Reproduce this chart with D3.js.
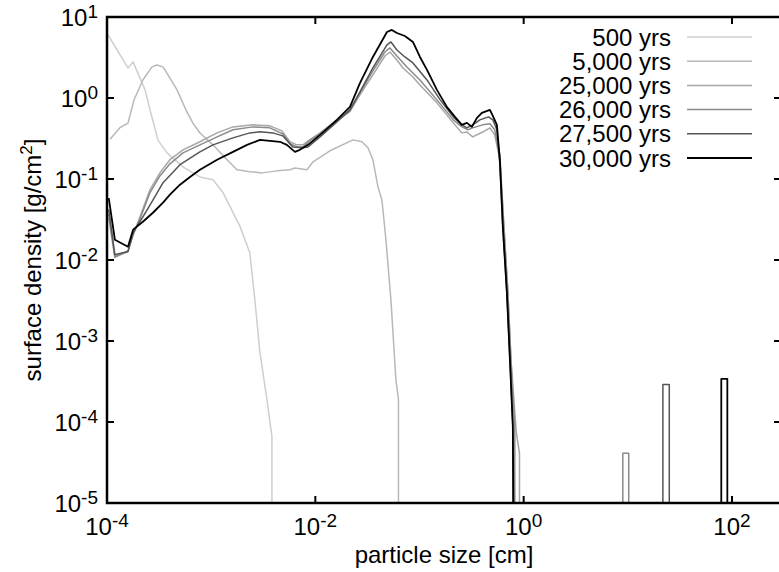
<!DOCTYPE html>
<html>
<head>
<meta charset="utf-8">
<script src="https://cdn.jsdelivr.net/npm/d3@7"></script>
<style>
  body { margin: 0; background: #fff; }
  svg { display: block; font-family: 'Liberation Sans', Arial, Helvetica, sans-serif; }
</style>
</head>
<body>
<div id="chart"></div>
<script>
// [particle size (cm), surface density (g/cm^2)], 0 = below plot floor
const yrs500 = [
  [1.0e-4, 6.3], [1.59e-4, 2.35], [1.78e-4, 2.79], [2.07e-4, 1.77], [2.32e-4, 1.26],
  [2.59e-4, 0.71], [3.09e-4, 0.30], [3.77e-4, 0.21], [5.36e-4, 0.141], [7.8e-4, 0.106],
  [1.04e-3, 0.098], [1.30e-3, 0.068], [1.89e-3, 0.026], [2.35e-3, 0.0123], [2.63e-3, 3.2e-3],
  [2.94e-3, 7.2e-4], [3.43e-3, 1.9e-4], [3.83e-3, 6.6e-5], [3.83e-3, 0]
];
const yrs5000 = [
  [1.07e-4, 0.31], [1.33e-4, 0.43], [1.59e-4, 0.49], [1.82e-4, 0.95], [2.21e-4, 1.67],
  [2.70e-4, 2.42], [3.02e-4, 2.56], [3.45e-4, 2.42], [3.85e-4, 1.93], [4.70e-4, 1.26],
  [5.73e-4, 0.71], [6.68e-4, 0.49], [7.8e-4, 0.37], [1.04e-3, 0.264], [1.42e-3, 0.173],
  [1.77e-3, 0.130], [2.35e-3, 0.123], [3.08e-3, 0.119], [4.28e-3, 0.126], [5.70e-3, 0.130],
  [6.37e-3, 0.137], [8.3e-3, 0.130], [9.5e-3, 0.163], [1.38e-2, 0.223], [2.30e-2, 0.304],
  [2.80e-2, 0.288], [3.20e-2, 0.243], [3.57e-2, 0.173], [3.99e-2, 0.080], [4.36e-2, 0.055],
  [4.76e-2, 0.0178], [5.32e-2, 3.2e-3], [5.94e-2, 3.3e-4], [6.28e-2, 1.9e-4], [6.28e-2, 0]
];
const yrs25000 = [
  [1.04e-4, 0.033], [1.19e-4, 0.0107], [1.59e-4, 0.0130], [1.78e-4, 0.020], [2.07e-4, 0.034],
  [2.59e-4, 0.074], [3.22e-4, 0.119], [4.02e-4, 0.173], [5.36e-4, 0.229], [7.8e-4, 0.288],
  [1.14e-3, 0.371], [1.62e-3, 0.440], [2.52e-3, 0.466], [3.66e-3, 0.453], [4.78e-3, 0.393],
  [5.70e-3, 0.288], [6.64e-3, 0.264], [7.6e-3, 0.264], [8.8e-3, 0.304], [1.11e-2, 0.371],
  [1.61e-2, 0.537], [2.15e-2, 0.68], [2.68e-2, 1.09], [3.57e-2, 1.93], [4.65e-2, 3.30],
  [5.2e-2, 3.70], [6.07e-2, 2.95], [6.95e-2, 2.35], [8.65e-2, 1.82], [0.101, 1.45],
  [0.147, 0.871], [0.211, 0.493], [0.255, 0.371], [0.285, 0.38], [0.324, 0.331],
  [0.404, 0.38], [0.474, 0.428], [0.527, 0.351], [0.591, 0.173], [0.646, 0.0258],
  [0.706, 3.95e-3], [0.755, 5.9e-4], [0.85, 7.4e-5], [0.912, 4.1e-5], [0.912, 0]
];
const yrs26000 = [
  [1.04e-4, 0.037], [1.19e-4, 0.0110], [1.59e-4, 0.0127], [1.78e-4, 0.021], [2.07e-4, 0.032],
  [2.59e-4, 0.068], [3.22e-4, 0.109], [4.02e-4, 0.154], [5.36e-4, 0.21], [7.8e-4, 0.264],
  [1.14e-3, 0.331], [1.62e-3, 0.405], [2.52e-3, 0.440], [3.66e-3, 0.428], [4.87e-3, 0.361],
  [5.70e-3, 0.272], [6.64e-3, 0.249], [7.6e-3, 0.249], [8.8e-3, 0.296], [1.11e-2, 0.361],
  [1.61e-2, 0.522], [2.15e-2, 0.70], [2.68e-2, 1.16], [3.57e-2, 2.16], [4.65e-2, 3.70],
  [5.2e-2, 4.15], [6.07e-2, 3.30], [7.57e-2, 2.42], [0.101, 1.67], [0.147, 0.948],
  [0.211, 0.537], [0.255, 0.44], [0.292, 0.405], [0.324, 0.428], [0.404, 0.466],
  [0.474, 0.48], [0.527, 0.405], [0.591, 0.199], [0.646, 0.0258], [0.706, 3.95e-3],
  [0.755, 5.9e-4], [0.822, 8.1e-5], [0.822, 0]
];
const yrs27500 = [
  [1.04e-4, 0.042], [1.19e-4, 0.0116], [1.59e-4, 0.0127], [1.78e-4, 0.0217], [2.21e-4, 0.034],
  [2.76e-4, 0.055], [3.45e-4, 0.090], [5.02e-4, 0.150], [7.8e-4, 0.216], [1.04e-3, 0.264],
  [1.62e-3, 0.322], [2.35e-3, 0.371], [2.94e-3, 0.382], [3.92e-3, 0.371], [4.87e-3, 0.341],
  [6.07e-3, 0.249], [7.6e-3, 0.243], [8.5e-3, 0.249], [1.11e-2, 0.331], [1.61e-2, 0.507],
  [2.15e-2, 0.713], [2.68e-2, 1.19], [3.57e-2, 2.35], [4.87e-2, 4.52], [5.32e-2, 4.92],
  [6.07e-2, 3.92], [7.24e-2, 3.21], [8.65e-2, 2.71], [0.118, 1.67], [0.158, 0.948],
  [0.211, 0.585], [0.255, 0.466], [0.285, 0.428], [0.324, 0.466], [0.380, 0.537],
  [0.460, 0.585], [0.506, 0.537], [0.553, 0.405], [0.591, 0.150], [0.631, 0.0258],
  [0.69, 3.95e-3], [0.738, 5.9e-4], [0.787, 8.8e-5], [0.79, 0]
];
const yrs30000 = [
  [1.04e-4, 0.058], [1.19e-4, 0.0178], [1.59e-4, 0.0146], [1.78e-4, 0.0237], [2.21e-4, 0.0297],
  [2.76e-4, 0.0383], [3.45e-4, 0.051], [4.02e-4, 0.064], [5.02e-4, 0.085], [6.26e-4, 0.106],
  [7.8e-4, 0.130], [1.14e-3, 0.173], [1.62e-3, 0.216], [2.21e-3, 0.264], [2.94e-3, 0.304],
  [4.57e-3, 0.288], [5.33e-3, 0.264], [6.37e-3, 0.216], [7.1e-3, 0.229], [8.5e-3, 0.264],
  [1.11e-2, 0.351], [1.61e-2, 0.537], [2.15e-2, 0.776], [2.68e-2, 1.53], [3.57e-2, 3.21],
  [4.87e-2, 6.53], [5.43e-2, 6.92], [6.07e-2, 6.35], [7.24e-2, 5.83], [8.65e-2, 4.92],
  [0.101, 3.21], [0.118, 2.22], [0.147, 1.26], [0.183, 0.776], [0.219, 0.585],
  [0.255, 0.466], [0.285, 0.493], [0.318, 0.44], [0.356, 0.569], [0.397, 0.655],
  [0.474, 0.713], [0.506, 0.601], [0.553, 0.466], [0.591, 0.173], [0.631, 0.0258],
  [0.69, 3.95e-3], [0.738, 5.9e-4], [0.787, 8.8e-5], [0.80, 0]
];

// isolated large-body bins (series index, size range, density)
const boulderSeries = [3, 4, 5];
const boulderLo = [8.95, 21.7, 78.9];
const boulderHi = [10.2, 25.0, 90.2];
const boulderDens = [4.1e-5, 2.9e-4, 3.4e-4];

const seriesNames = ["500 yrs", "5,000 yrs", "25,000 yrs", "26,000 yrs", "27,500 yrs", "30,000 yrs"];
const seriesColors = ["#cfcfcf", "#b8b8b8", "#a6a6a6", "#8a8a8a", "#555555", "#000000"];
const seriesData = [yrs500, yrs5000, yrs25000, yrs26000, yrs27500, yrs30000];

const xTickExp = [-4, -2, 0, 2];
const yTickExp = [-5, -4, -3, -2, -1, 0, 1];

const width = 779, height = 572;
const plotLeft = 107, plotTop = 17, plotRight = 781, plotBottom = 503;
const fontSize = 24, supSize = 19;

const x = d3.scaleLog().domain([1e-4, 1e2]).range([plotLeft, 732]);
const y = d3.scaleLog().domain([1e-5, 10]).range([plotBottom, plotTop]);

const svg = d3.select("#chart").append("svg")
    .attr("width", width)
    .attr("height", height);

svg.append("clipPath").attr("id", "plotClip")
  .append("rect")
    .attr("x", plotLeft).attr("y", plotTop)
    .attr("width", plotRight - plotLeft).attr("height", plotBottom - plotTop);

const line = d3.line()
    .x(d => x(d[0]))
    .y(d => d[1] > 0 ? y(d[1]) : plotBottom + 30);

// append the boulder bins to their series
const curves = seriesData.map((pts, i) => {
    let all = pts.slice();
    boulderSeries.forEach((s, k) => {
        if (s === i) {
            all.push([boulderLo[k], 0], [boulderLo[k], boulderDens[k]],
                     [boulderHi[k], boulderDens[k]], [boulderHi[k], 0]);
        }
    });
    return all;
});

const plotG = svg.append("g").attr("clip-path", "url(#plotClip)");

plotG.selectAll("path.curve")
    .data(curves)
    .join("path")
    .attr("class", "curve")
    .attr("d", line)
    .attr("fill", "none")
    .attr("stroke", (d, i) => seriesColors[i])
    .attr("stroke-width", (d, i) => i === 5 ? 1.8 : 1.5)
    .attr("stroke-linejoin", "round");

// frame
svg.append("rect")
    .attr("x", plotLeft).attr("y", plotTop)
    .attr("width", plotRight - plotLeft).attr("height", plotBottom - plotTop)
    .attr("fill", "none").attr("stroke", "#000").attr("stroke-width", 2.5);

const tickLen = 7;
const xTicks = xTickExp.map(e => Math.pow(10, e));
const yTicks = yTickExp.map(e => Math.pow(10, e));

const ticks = svg.append("g").attr("stroke", "#000").attr("stroke-width", 2);
xTicks.forEach(v => {
    ticks.append("line").attr("x1", x(v)).attr("x2", x(v))
        .attr("y1", plotBottom).attr("y2", plotBottom - tickLen);
    ticks.append("line").attr("x1", x(v)).attr("x2", x(v))
        .attr("y1", plotTop).attr("y2", plotTop + tickLen);
});
yTicks.forEach(v => {
    ticks.append("line").attr("x1", plotLeft).attr("x2", plotLeft + tickLen)
        .attr("y1", y(v)).attr("y2", y(v));
    ticks.append("line").attr("x1", plotRight).attr("x2", plotRight - tickLen)
        .attr("y1", y(v)).attr("y2", y(v));
});

function powerLabel(sel, exp) {
    sel.append("tspan").text("10");
    sel.append("tspan").attr("font-size", supSize).attr("dy", -8).text(exp);
}

svg.selectAll("text.xlab")
    .data(xTickExp)
    .join("text")
    .attr("class", "xlab")
    .attr("x", e => x(Math.pow(10, e)))
    .attr("y", 535)
    .attr("text-anchor", "middle")
    .attr("font-size", fontSize)
    .each(function (e) { powerLabel(d3.select(this), e); });

svg.selectAll("text.ylab")
    .data(yTickExp)
    .join("text")
    .attr("class", "ylab")
    .attr("x", 98)
    .attr("y", e => y(Math.pow(10, e)) + 9)
    .attr("text-anchor", "end")
    .attr("font-size", fontSize)
    .each(function (e) { powerLabel(d3.select(this), e); });

// axis titles
svg.append("text")
    .attr("x", (plotLeft + plotRight) / 2)
    .attr("y", 563)
    .attr("text-anchor", "middle")
    .attr("font-size", fontSize)
    .text("particle size [cm]");

const yTitle = svg.append("text")
    .attr("transform", `translate(41,${(plotTop + plotBottom) / 2}) rotate(-90)`)
    .attr("text-anchor", "middle")
    .attr("font-size", fontSize);
yTitle.append("tspan").text("surface density [g/cm");
yTitle.append("tspan").attr("font-size", 17).attr("dy", -9).text("2");
yTitle.append("tspan").attr("dy", 9).text("]");

// legend
const legend = svg.append("g");
seriesNames.forEach((name, i) => {
    const cy = 37 + i * 24.2;
    legend.append("text")
        .attr("x", 671).attr("y", cy + 8.5)
        .attr("text-anchor", "end")
        .attr("font-size", fontSize)
        .text(name);
    legend.append("line")
        .attr("x1", 687).attr("x2", 752)
        .attr("y1", cy).attr("y2", cy)
        .attr("stroke", seriesColors[i])
        .attr("stroke-width", i === 5 ? 1.8 : 1.5);
});
</script>
</body>
</html>
